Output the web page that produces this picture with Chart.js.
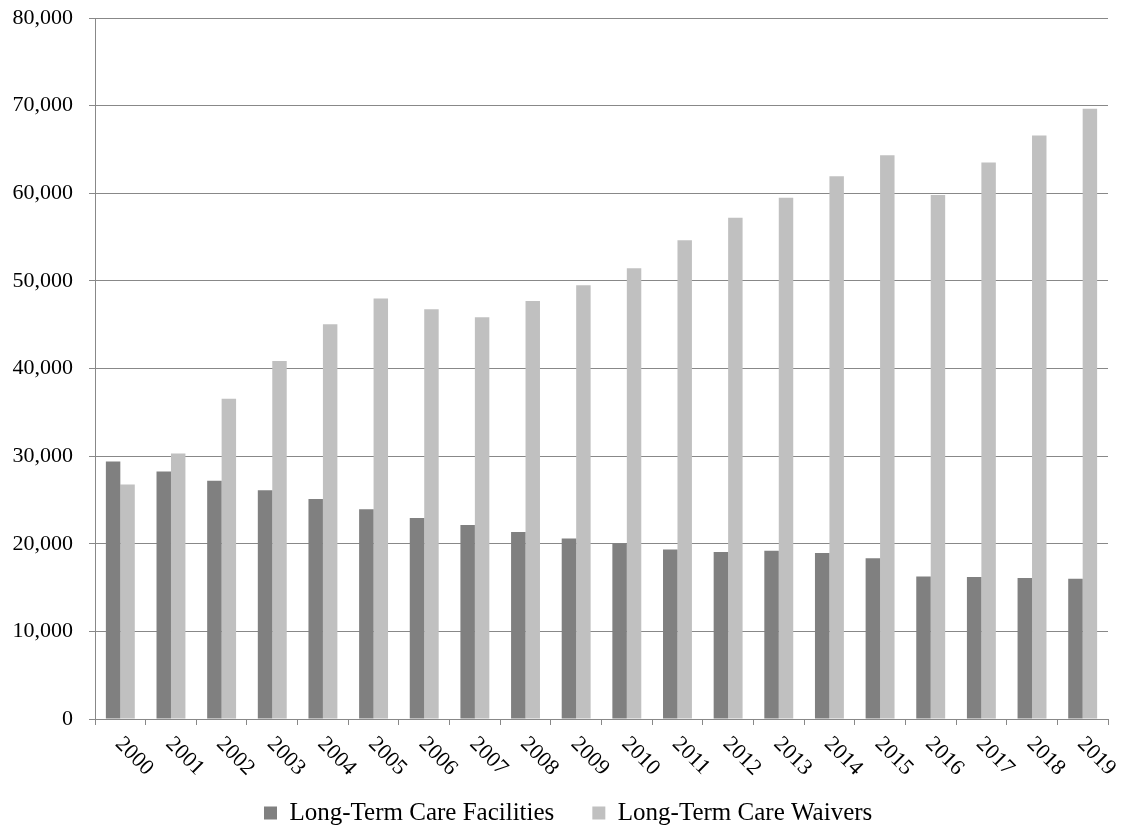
<!DOCTYPE html>
<html>
<head>
<meta charset="utf-8">
<title>Long-Term Care Facilities vs Waivers</title>
<script src="https://cdn.jsdelivr.net/npm/chart.js@4.4.1/dist/chart.umd.min.js"></script>
<style>
  html, body { margin: 0; padding: 0; background: #ffffff; }
  #chart { display: block; }
</style>
</head>
<body>
<canvas id="chart" width="1122" height="828"></canvas>
<script>
// Data
const years = ['2000', '2001', '2002', '2003', '2004', '2005', '2006', '2007', '2008', '2009',
               '2010', '2011', '2012', '2013', '2014', '2015', '2016', '2017', '2018', '2019'];
const facilities = [29400, 28250, 27200, 26100, 25100, 23950, 22950, 22150, 21350, 20600,
                    20050, 19350, 19050, 19200, 18950, 18350, 16250, 16200, 16100, 16000];
const waivers = [26750, 30300, 36550, 40850, 45050, 48000, 46750, 45850, 47700, 49500,
                 51450, 54650, 57200, 59500, 61950, 64350, 59800, 63500, 66600, 69650];
const yMax = 80000;
const yStep = 10000;

const serif = '"Liberation Serif", "Times New Roman", serif';
const gridGray = '#888888';

// x labels are slanted downwards (clockwise), which Chart.js can't do natively
const slantedLabels = {
  id: 'slantedLabels',
  afterDraw(chart) {
    const xs = chart.scales.x;
    const ctx = chart.ctx;
    ctx.save();
    ctx.font = '22px ' + serif;
    ctx.fillStyle = '#000';
    ctx.textAlign = 'left';
    ctx.textBaseline = 'top';
    chart.data.labels.forEach((lbl, i) => {
      ctx.save();
      ctx.translate(xs.getPixelForTick(i) + 6, xs.top + 14);
      ctx.rotate(Math.PI / 4);
      ctx.fillText(lbl, 0, 0);
      ctx.restore();
    });
    ctx.restore();
  }
};

// move the legend row to where the reference has it
const legendNudge = {
  id: 'legendNudge',
  afterLayout(chart) {
    const lg = chart.legend;
    if (!lg || !lg.lineWidths) return;
    const pad = lg.options.labels.padding;
    const startX = (lg.left + pad + lg.right - lg.lineWidths[0]) / 2;
    const dx = 264 - startX;
    const dy = 813 - (lg.top + pad + 12.5);
    lg.left += dx; lg.right += dx;
    lg.top += dy; lg.bottom += dy;
  }
};

new Chart(document.getElementById('chart'), {
  type: 'bar',
  data: {
    labels: years,
    datasets: [
      {
        label: 'Long-Term Care Facilities',
        data: facilities,
        backgroundColor: '#808080',
        borderWidth: 0
      },
      {
        label: 'Long-Term Care Waivers',
        data: waivers,
        backgroundColor: '#c0c0c0',
        borderWidth: 0
      }
    ]
  },
  options: {
    responsive: false,
    animation: false,
    locale: 'en-US',
    devicePixelRatio: 1,
    datasets: {
      bar: { categoryPercentage: 0.571, barPercentage: 1.0 }
    },
    layout: { padding: { top: 18, right: 14, left: 0, bottom: 0 } },
    plugins: {
      tooltip: { enabled: false },
      legend: {
        position: 'bottom',
        labels: {
          font: { family: serif, size: 25 },
          color: '#000',
          boxWidth: 13,
          boxHeight: 13,
          padding: 38
        }
      }
    },
    scales: {
      x: {
        grid: {
          display: true,
          offset: true,
          drawOnChartArea: false,
          drawTicks: true,
          tickLength: 6,
          color: gridGray
        },
        border: { display: true, color: gridGray },
        ticks: { display: false },
        afterFit(s) { s.height = 36; }
      },
      y: {
        min: 0,
        max: yMax,
        ticks: {
          stepSize: yStep,
          color: '#000',
          padding: 16,
          font: { family: serif, size: 22 }
        },
        grid: {
          color: gridGray,
          tickLength: 6,
          drawTicks: true
        },
        border: { display: true, color: gridGray },
        afterFit(s) {
          s.width = 95;
          s.paddingTop = 0;
          s.paddingBottom = 0;
        }
      }
    }
  },
  plugins: [slantedLabels, legendNudge]
});
</script>
</body>
</html>
